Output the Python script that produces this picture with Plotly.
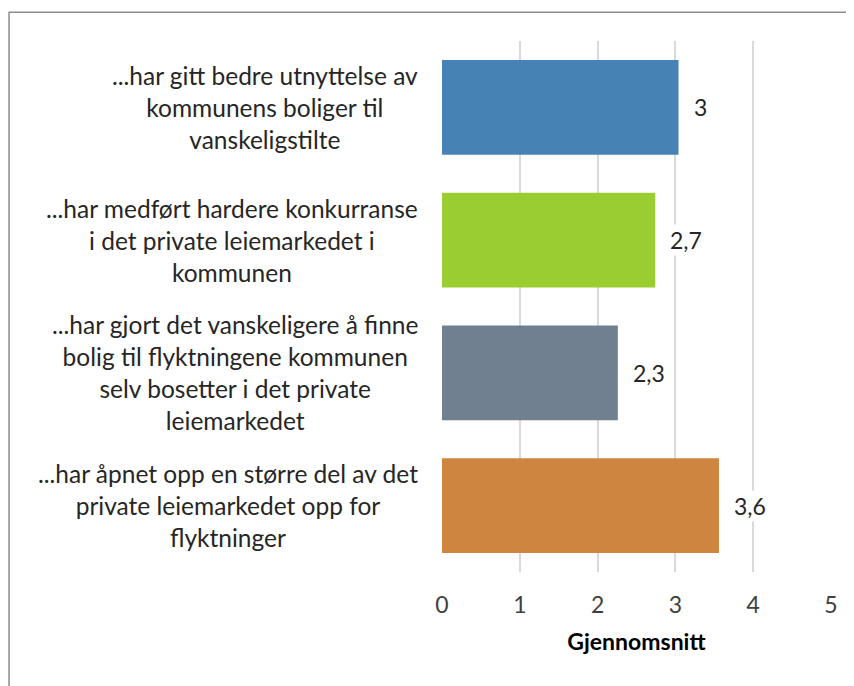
import plotly.graph_objs as go

categories = [
    "...har gitt bedre utnyttelse av<br>kommunens boliger til<br>vanskeligstilte",
    "...har medført hardere konkurranse<br>i det private leiemarkedet i<br>kommunen",
    "...har gjort det vanskeligere å finne<br>bolig til flyktningene kommunen<br>selv bosetter i det private<br>leiemarkedet",
    "...har åpnet opp en større del av det<br>private leiemarkedet opp for<br>flyktninger",
]
values = [3.04, 2.74, 2.26, 3.56]
value_labels = ["3", "2,7", "2,3", "3,6"]
colors = ["#4682B4", "#9ACD32", "#708090", "#CD853F"]
x_ticks = [0, 1, 2, 3, 4, 5]

font_name = "Lato"

fig = go.Figure()
fig.add_bar(x=values, y=list(range(len(categories))), orientation='h',
            marker=dict(color=colors, line=dict(width=0)), width=0.712,
            hoverinfo='x')

# category labels, centred multi-line text to the left of the plot
for i, lab in enumerate(categories):
    fig.add_annotation(x=-0.057, xref='paper', y=i, yref='y', text=lab, showarrow=False,
                       xanchor='right', yanchor='middle', align='center',
                       font=dict(family=font_name, size=24.5, color="#262626"))

# data labels (white box hides the gridline, like the original)
for i, (v, t) in enumerate(zip(values, value_labels)):
    fig.add_annotation(x=v, y=i, text=t, showarrow=False, xanchor='left', xshift=13,
                       bgcolor='white', borderpad=1,
                       font=dict(family=font_name, size=23, color="#262626"))

# outer frame
fig.add_shape(type='rect', xref='paper', yref='paper', x0=-1.113, x1=1.2, y0=-0.4, y1=1.054,
              line=dict(color="#8C8C8C", width=1.5), layer='below')

fig.update_xaxes(range=[0, 5], tickvals=x_ticks, showgrid=True, gridcolor="#D9D9D9", gridwidth=2,
                 zeroline=False, showline=False, ticks='', ticklabelstandoff=17,
                 tickfont=dict(family=font_name, size=23, color="#404040"),
                 title=dict(text="<b>Gjennomsnitt</b>", standoff=16,
                            font=dict(family=font_name, size=23, color="#000000")))
fig.update_yaxes(range=[3.5, -0.5], showticklabels=False, showgrid=False, zeroline=False,
                 showline=False)
# page body has an 8px margin, so the figure is drawn 8px smaller and margins shifted
fig.update_layout(width=846, height=678, margin=dict(l=434, r=23, t=33, b=114),
                  plot_bgcolor='white', paper_bgcolor='white', showlegend=False)

fig.write_html("out.html")
